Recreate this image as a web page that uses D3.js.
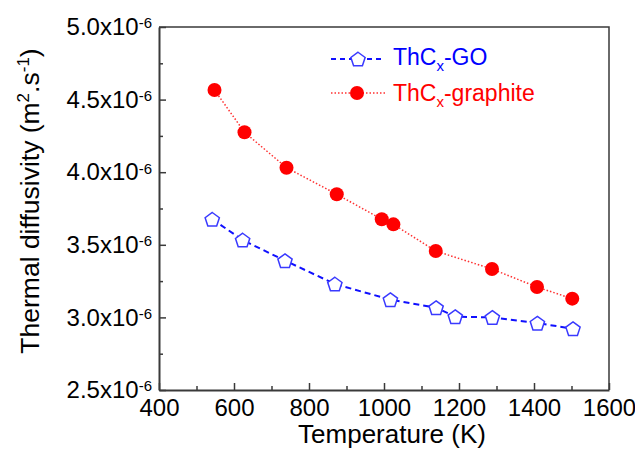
<!DOCTYPE html>
<html>
<head>
<meta charset="utf-8">
<script src="https://cdn.jsdelivr.net/npm/d3@7"></script>
<style>
  body { margin: 0; background: #fff; }
  svg { font-family: "Liberation Sans", Arial, sans-serif; }
</style>
</head>
<body>
<svg id="chart" width="635" height="450"></svg>
<script>
// temperature (K) and diffusivity (x1e-6 m2/s)
const goTemp = [542, 623, 736, 869, 1017, 1139, 1190, 1289, 1409, 1504];
const goVal = [3.676, 3.533, 3.391, 3.230, 3.122, 3.067, 3.005, 3.000, 2.961, 2.922];
const grTemp = [548, 628, 740, 874, 994, 1025, 1138, 1288, 1408, 1502];
const grVal = [4.566, 4.275, 4.031, 3.848, 3.676, 3.641, 3.457, 3.333, 3.209, 3.129];
const xTicks = [400, 600, 800, 1000, 1200, 1400, 1600];
const yTicks = [2.5, 3.0, 3.5, 4.0, 4.5, 5.0];

const width = 635, height = 450;
const margin = {top: 27, right: 26, bottom: 60, left: 159};
const svg = d3.select('#chart');

const x = d3.scaleLinear().domain([400, 1600]).range([margin.left, width - margin.right]);
const y = d3.scaleLinear().domain([2.5, 5.0]).range([height - margin.bottom, margin.top]);

const axisColor = '#3a3a3a';
const font = '"Liberation Sans", Arial, sans-serif';

// frame (top & right)
svg.append('path')
  .attr('d', `M${x(400)},${y(5)}H${x(1600)}V${y(2.5)}`)
  .attr('fill', 'none').attr('stroke', axisColor).attr('stroke-width', 1.5);

// minor ticks
svg.append('g')
  .attr('transform', `translate(0,${y(2.5)})`)
  .call(d3.axisBottom(x).tickValues(d3.range(500, 1600, 200)).tickSize(-4).tickFormat(''))
  .call(g => g.select('.domain').remove())
  .call(g => g.selectAll('line').attr('stroke', axisColor).attr('stroke-width', 1.5));
svg.append('g')
  .attr('transform', `translate(${x(400)},0)`)
  .call(d3.axisLeft(y).tickValues([2.75, 3.25, 3.75, 4.25, 4.75]).tickSize(-4).tickFormat(''))
  .call(g => g.select('.domain').remove())
  .call(g => g.selectAll('line').attr('stroke', axisColor).attr('stroke-width', 1.5));

// x axis
svg.append('g')
  .attr('transform', `translate(0,${y(2.5)})`)
  .call(d3.axisBottom(x).tickValues(xTicks).tickSize(-7).tickSizeOuter(0).tickPadding(9).tickFormat(d3.format('d')))
  .call(g => g.select('.domain').attr('stroke', axisColor).attr('stroke-width', 2))
  .call(g => g.selectAll('.tick line').attr('stroke', axisColor).attr('stroke-width', 1.5))
  .call(g => g.selectAll('text').attr('font-size', 24).attr('fill', '#000').attr('font-family', font));

// y axis
svg.append('g')
  .attr('transform', `translate(${x(400)},0)`)
  .call(d3.axisLeft(y).tickValues(yTicks).tickSize(-7).tickSizeOuter(0).tickPadding(7))
  .call(g => g.select('.domain').attr('stroke', axisColor).attr('stroke-width', 2))
  .call(g => g.selectAll('.tick line').attr('stroke', axisColor).attr('stroke-width', 1.5))
  .call(g => g.selectAll('text')
    .attr('font-size', 24).attr('fill', '#000').attr('font-family', font)
    .each(function(d) {
      const t = d3.select(this).text(null);
      t.append('tspan').text(d.toFixed(1) + 'x10');
      t.append('tspan').attr('dy', '-0.45em').attr('font-size', 15).text('-6');
    }));

// axis titles
svg.append('text')
  .attr('x', 392).attr('y', 443)
  .attr('text-anchor', 'middle').attr('font-size', 26)
  .text('Temperature (K)');

const yt = svg.append('text')
  .attr('transform', 'translate(38.5,201) rotate(-90)')
  .attr('text-anchor', 'middle').attr('font-size', 26.5);
yt.append('tspan').text('Thermal diffusivity (m');
yt.append('tspan').attr('dy', -10).attr('font-size', 17).text('2');
yt.append('tspan').attr('dy', 10).text('.s');
yt.append('tspan').attr('dy', -10).attr('font-size', 17).text('-1');
yt.append('tspan').attr('dy', 10).text(')');

// pentagon marker
function pentagon(r) {
  const pts = d3.range(5).map(i => {
    const a = -Math.PI / 2 + i * 2 * Math.PI / 5;
    return [r * Math.cos(a), r * Math.sin(a) + r * 0.1];
  });
  return 'M' + pts.join('L') + 'Z';
}

const line = d3.line().x(d => x(d[0])).y(d => y(d[1]));
const goData = goTemp.map((t, i) => [t, goVal[i]]);
const grData = grTemp.map((t, i) => [t, grVal[i]]);

svg.append('path').datum(grData)
  .attr('d', line).attr('fill', 'none')
  .attr('stroke', '#ff3030').attr('stroke-width', 1.5).attr('stroke-dasharray', '1.5,2');
svg.append('path').datum(goData)
  .attr('d', line).attr('fill', 'none')
  .attr('stroke', '#1010ff').attr('stroke-width', 2).attr('stroke-dasharray', '6,4');

svg.append('g').selectAll('circle').data(grData).join('circle')
  .attr('cx', d => x(d[0])).attr('cy', d => y(d[1])).attr('r', 7)
  .attr('fill', '#ff0000');
svg.append('g').selectAll('path').data(goData).join('path')
  .attr('transform', d => `translate(${x(d[0])},${y(d[1])})`)
  .attr('d', pentagon(7.5))
  .attr('fill', '#fff').attr('stroke', '#3a3aff').attr('stroke-width', 1.5);

// legend
const leg = svg.append('g');
leg.append('line').attr('x1', 331).attr('x2', 385).attr('y1', 59).attr('y2', 59)
  .attr('stroke', '#1010ff').attr('stroke-width', 2).attr('stroke-dasharray', '5,4');
leg.append('path').attr('transform', 'translate(358,59)').attr('d', pentagon(7.5))
  .attr('fill', '#fff').attr('stroke', '#3a3aff').attr('stroke-width', 1.5);
leg.append('line').attr('x1', 331).attr('x2', 385).attr('y1', 93).attr('y2', 93)
  .attr('stroke', '#ff3030').attr('stroke-width', 1.5).attr('stroke-dasharray', '1.5,2');
leg.append('circle').attr('cx', 357).attr('cy', 93).attr('r', 7).attr('fill', '#ff0000');

const legItems = [['#0000ff', '-GO', 65], ['#ff0000', '-graphite', 101]];
legItems.forEach(([c, s, yy]) => {
  const t = leg.append('text').attr('x', 393).attr('y', yy).attr('font-size', 23).attr('fill', c);
  t.append('tspan').text('ThC');
  t.append('tspan').attr('dy', 6).attr('font-size', 15).text('x');
  t.append('tspan').attr('dy', -6).text(s);
});
</script>
</body>
</html>
